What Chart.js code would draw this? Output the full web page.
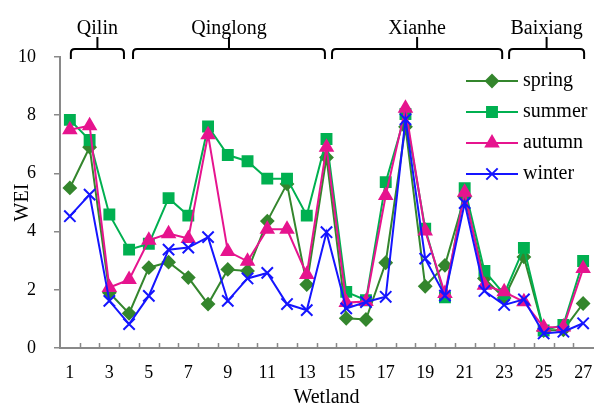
<!DOCTYPE html>
<html>
<head>
<meta charset="utf-8">
<script src="https://cdn.jsdelivr.net/npm/chart.js@4/dist/chart.umd.min.js"></script>
<style>
    body { margin: 0; background: #fff; }
    #wrap { width: 595px; height: 410px; }
</style>
</head>
<body>
<div id="wrap"><canvas id="chart"></canvas></div>
<script>
const wetlands = ['1', '2', '3', '4', '5', '6', '7', '8', '9', '10', '11', '12', '13', '14',
    '15', '16', '17', '18', '19', '20', '21', '22', '23', '24', '25', '26', '27'];

const spring = [5.5, 6.9, 1.9, 1.19, 2.76, 2.95, 2.42, 1.51, 2.7, 2.65, 4.36, 5.64, 2.18, 6.55,
    1.02, 0.98, 2.93, 7.6, 2.12, 2.84, 5.2, 2.39, 1.72, 3.13, 0.6, 0.62, 1.53];
const summer = [7.84, 7.15, 4.59, 3.38, 3.58, 5.15, 4.55, 7.61, 6.63, 6.42, 5.82, 5.82, 4.55, 7.18,
    1.93, 1.64, 5.7, 8.04, 4.1, 1.74, 5.49, 2.65, 1.85, 3.44, 0.6, 0.79, 2.99];
const autumn = [7.5, 7.64, 2.08, 2.35, 3.7, 3.93, 3.76, 7.33, 3.32, 2.98, 4.08, 4.08, 2.53, 6.9,
    1.56, 1.6, 5.24, 8.24, 4.02, 1.87, 5.35, 2.16, 1.93, 1.59, 0.71, 0.72, 2.73];
const winter = [4.53, 5.27, 1.62, 0.82, 1.79, 3.38, 3.45, 3.81, 1.62, 2.39, 2.58, 1.51, 1.3, 3.98,
    1.36, 1.58, 1.76, 7.86, 3.07, 1.8, 4.98, 1.96, 1.48, 1.67, 0.5, 0.56, 0.85];

// regions above the plot, spans given in wetland numbers
const groupNames = ['Qilin', 'Qinglong', 'Xianhe', 'Baixiang'];
const groupFrom = [1.05, 4.2, 14.28, 23.25];
const groupTo = [3.74, 13.92, 22.9, 27.05];

const serif = "'Liberation Serif', 'Times New Roman', serif";
const axisGray = '#898989';

const series = [
    { label: 'spring', data: spring, color: '#34862d', style: 'rectRot', radius: 6, order: 4 },
    { label: 'summer', data: summer, color: '#00b050', style: 'rect', radius: 7, order: 3 },
    { label: 'autumn', data: autumn, color: '#e6148e', style: 'triangle', radius: 7, order: 2 },
    { label: 'winter', data: winter, color: '#1515ff', style: 'crossRot', radius: 8, order: 1 }
];

const groupBrackets = {
    id: 'groupBrackets',
    afterDraw(chart) {
        const ctx = chart.ctx;
        const x = chart.scales.x;
        ctx.save();
        ctx.strokeStyle = '#000';
        ctx.lineWidth = 2;
        ctx.fillStyle = '#000';
        ctx.font = '20px ' + serif;
        ctx.textAlign = 'center';
        ctx.textBaseline = 'alphabetic';
        groupNames.forEach((name, i) => {
            const x1 = x.getPixelForValue(groupFrom[i] - 1);
            const x2 = x.getPixelForValue(groupTo[i] - 1);
            const mid = (x1 + x2) / 2;
            ctx.beginPath();
            ctx.moveTo(x1, 59);
            ctx.lineTo(x1, 53);
            ctx.quadraticCurveTo(x1, 49, x1 + 4, 49);
            ctx.lineTo(x2 - 4, 49);
            ctx.quadraticCurveTo(x2, 49, x2, 53);
            ctx.lineTo(x2, 59);
            ctx.moveTo(mid, 49);
            ctx.lineTo(mid, 37);
            ctx.stroke();
            ctx.fillText(name, mid, 34);
        });
        ctx.restore();
    }
};

const innerLegend = {
    id: 'innerLegend',
    afterDraw(chart) {
        const ctx = chart.ctx;
        const area = chart.chartArea;
        ctx.save();
        series.forEach((s, i) => {
            const y = area.top + 24 + i * 31;
            const x0 = area.right - 127;
            ctx.strokeStyle = s.color;
            ctx.fillStyle = s.color;
            ctx.lineWidth = 2;
            ctx.beginPath();
            ctx.moveTo(x0, y);
            ctx.lineTo(x0 + 52, y);
            ctx.stroke();
            Chart.helpers.drawPoint(ctx, {
                pointStyle: s.style, radius: s.radius, rotation: 0, borderWidth: 2
            }, x0 + 26, y);
            ctx.fillStyle = '#000';
            ctx.font = '20px ' + serif;
            ctx.textAlign = 'left';
            ctx.textBaseline = 'middle';
            ctx.fillText(s.label, x0 + 57, y);
        });
        ctx.restore();
    }
};

const xTicks = {
    id: 'xTicks',
    afterDraw(chart) {
        const ctx = chart.ctx;
        const x = chart.scales.x;
        const bottom = chart.chartArea.bottom;
        ctx.save();
        ctx.strokeStyle = axisGray;
        ctx.lineWidth = 1.5;
        ctx.beginPath();
        for (let i = 1; i < wetlands.length; i++) {
            const px = Math.round(x.getPixelForValue(i - 0.5)) + 0.5;
            ctx.moveTo(px, bottom);
            ctx.lineTo(px, bottom - 5);
        }
        ctx.stroke();
        ctx.restore();
    }
};

new Chart(document.getElementById('chart'), {
    type: 'line',
    data: {
        labels: wetlands,
        datasets: series.map(s => ({
            label: s.label,
            data: s.data,
            borderColor: s.color,
            backgroundColor: s.color,
            borderWidth: 2,
            pointStyle: s.style,
            pointRadius: s.radius,
            pointBorderWidth: 2,
            pointHoverRadius: s.radius,
            tension: 0,
            fill: false,
            clip: false,
            order: s.order
        }))
    },
    options: {
        responsive: true,
        maintainAspectRatio: false,
        animation: false,
        layout: { autoPadding: false, padding: { top: 57, right: 2, left: 0, bottom: 0 } },
        plugins: {
            legend: { display: false },
            tooltip: { enabled: false }
        },
        scales: {
            x: {
                offset: true,
                afterFit: scale => {
                    scale.height = 62;
                    scale.paddingLeft = 0;
                    scale.paddingRight = 0;
                },
                grid: { display: false, drawTicks: false },
                border: { display: true, color: axisGray, width: 2 },
                ticks: {
                    autoSkip: false,
                    maxRotation: 0,
                    padding: 14,
                    color: '#000',
                    font: { family: serif, size: 18 },
                    callback: function (value, index) {
                        return index % 2 === 0 ? wetlands[index] : '';
                    }
                },
                title: {
                    display: true,
                    text: 'Wetland',
                    color: '#000',
                    font: { family: serif, size: 20 },
                    padding: { top: 0, bottom: 0 }
                }
            },
            y: {
                min: 0,
                max: 10,
                afterFit: scale => { scale.width = 60; },
                grid: { drawOnChartArea: false, drawTicks: true, tickLength: 6, color: axisGray, lineWidth: 1.5 },
                border: { display: true, color: axisGray, width: 2 },
                ticks: {
                    stepSize: 2,
                    padding: 18,
                    color: '#000',
                    font: { family: serif, size: 18 }
                },
                title: {
                    display: true,
                    text: 'WEI',
                    color: '#000',
                    font: { family: serif, size: 20 },
                    padding: { top: 11, bottom: 0 }
                }
            }
        }
    },
    plugins: [groupBrackets, innerLegend, xTicks]
});
</script>
</body>
</html>
